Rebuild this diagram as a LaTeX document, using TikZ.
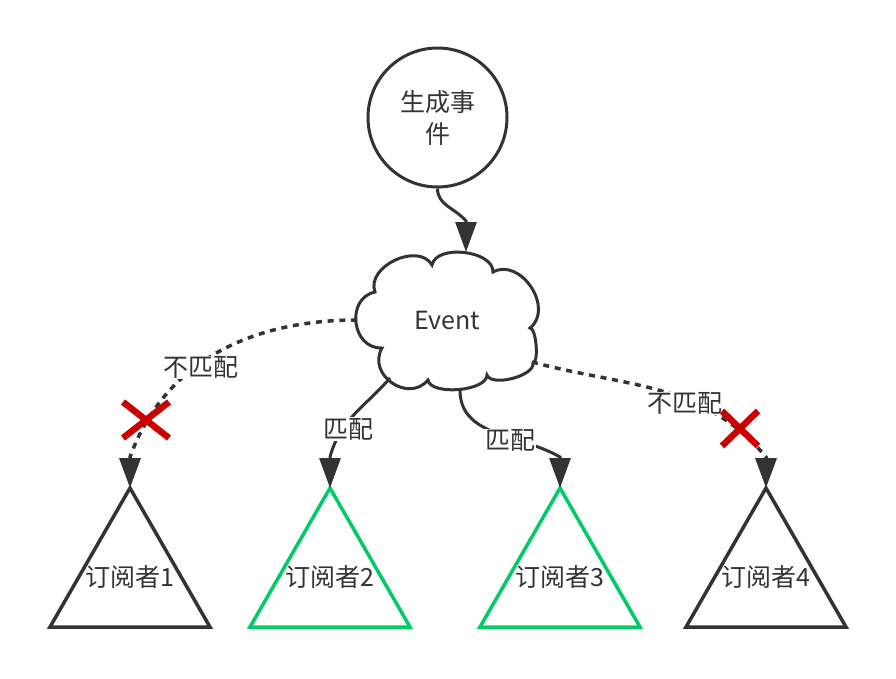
\documentclass[tikz,border=0pt]{standalone}
\usepackage{fontspec}
\setmainfont{Noto Sans CJK SC}
\usetikzlibrary{arrows.meta}
\definecolor{ink}{HTML}{333333}
\definecolor{okgreen}{HTML}{00CC66}
\definecolor{nored}{HTML}{CC0000}
\begin{document}
\begin{tikzpicture}[x=1pt,y=1pt,
  every node/.style={text=ink, font=\fontsize{25}{32}\selectfont},
  edge/.style={draw=ink, line width=3pt, -{Triangle[length=30pt,width=21pt]}},
  dotedge/.style={edge, line width=3.5pt, dash pattern=on 6pt off 5.7pt},
  lbl/.style={fill=white, inner sep=1pt},
  tri/.style={line width=3.5pt, line join=miter},
  cross/.style={draw=nored, line width=6.5pt},
  cloudline/.style={draw=ink, line width=3pt, fill=white}
]
\useasboundingbox (0,0) rectangle (896,-678);

% start node
\node[draw=ink, line width=3pt, circle, minimum size=139pt, inner sep=0pt, align=center] (c) at (437.5,-117.5) {生成事\\件};

% cloud
\draw[cloudline] (382,-348)
 to[bend left=85, looseness=1.38] (375,-292)
 to[bend left=85, looseness=1.1] (432,-265)
 to[bend left=85, looseness=0.9] (493,-272)
 to[bend left=85, looseness=1.2] (530,-328)
 to[bend left=85, looseness=0.45] (533,-363)
 to[bend left=85, looseness=0.7] (487,-375)
 to[bend left=85, looseness=0.7] (428,-380)
 to[bend left=85, looseness=1.4] (382,-348) -- cycle;
\node (ev) at (447,-320) {Event};
\coordinate (evtop) at (466,-252);
\coordinate (evleft) at (357,-320);
\coordinate (evright) at (532,-362);
\coordinate (evbl) at (390,-378);
\coordinate (evbot) at (460,-390);

% subscribers
\draw[tri, draw=ink] (130,-488) coordinate (t1) -- (210,-627) -- (50,-627) -- cycle;
\draw[tri, draw=okgreen] (330,-488) coordinate (t2) -- (410,-627) -- (250,-627) -- cycle;
\draw[tri, draw=okgreen] (560,-488) coordinate (t3) -- (640,-627) -- (480,-627) -- cycle;
\draw[tri, draw=ink] (766,-488) coordinate (t4) -- (846,-627) -- (686,-627) -- cycle;
\node (s1) at (130,-577) {订阅者1};
\node (s2) at (330,-577) {订阅者2};
\node (s3) at (560,-577) {订阅者3};
\node (s4) at (766,-577) {订阅者4};

% arrow bases (where the curve meets the straight arrowhead)
\coordinate (b0) at (466,-221);
\coordinate (b1) at (130,-457);
\coordinate (b2) at (330,-457);
\coordinate (b3) at (560,-457);
\coordinate (b4) at (766,-457);

% connectors
\draw[edge] (c.south) to[out=-90,in=130] (b0) -- (evtop);
\draw[dotedge] (evleft) to[out=180,in=70] (b1) -- (t1);
\draw[edge] (evbl) to[out=229,in=75] (b2) -- (t2);
\draw[edge] (evbot) to[out=-90,in=150] (b3) -- (t3);
\draw[dotedge] (evright) to[out=-15,in=130] (b4) -- (t4);

% labels
\node[lbl] (l1) at (200.5,-367.5) {不匹配};
\node[lbl] (l2) at (348,-429) {匹配};
\node[lbl] (l3) at (510,-440.5) {匹配};
\node[lbl] (l4) at (685,-403.5) {不匹配};

% crosses
\draw[cross] (123,-402) -- (169,-438) (169,-402) -- (123,-438);
\draw[cross] (722,-411) -- (758,-446) (758,-411) -- (722,-446);
\end{tikzpicture}
\end{document}
